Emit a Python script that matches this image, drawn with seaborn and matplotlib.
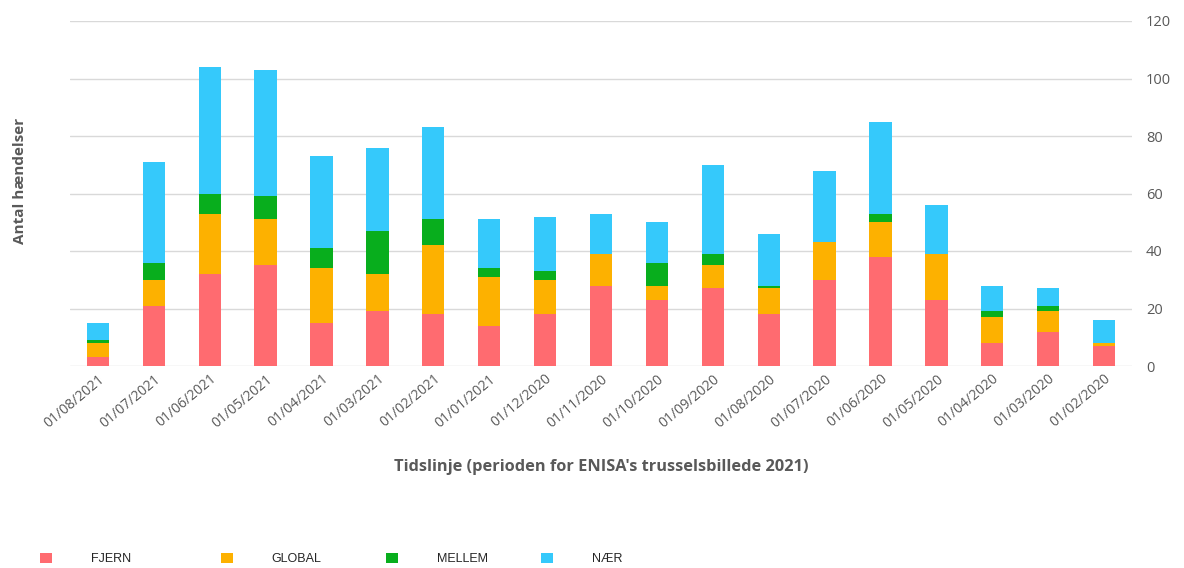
import numpy as np
import pandas as pd
import matplotlib
matplotlib.use("Agg")
import matplotlib.pyplot as plt
from matplotlib.patches import Patch
import seaborn as sns

# Monthly incident counts, newest month first
dates = ["01/08/2021", "01/07/2021", "01/06/2021", "01/05/2021", "01/04/2021",
         "01/03/2021", "01/02/2021", "01/01/2021", "01/12/2020", "01/11/2020",
         "01/10/2020", "01/09/2020", "01/08/2020", "01/07/2020", "01/06/2020",
         "01/05/2020", "01/04/2020", "01/03/2020", "01/02/2020"]
fjern = [3, 21, 32, 35, 15, 19, 18, 14, 18, 28, 23, 27, 18, 30, 38, 23, 8, 12, 7]
global_ = [5, 9, 21, 16, 19, 13, 24, 17, 12, 11, 5, 8, 9, 13, 12, 16, 9, 7, 1]
mellem = [1, 6, 7, 8, 7, 15, 9, 3, 3, 0, 8, 4, 1, 0, 3, 0, 2, 2, 0]
naer = [6, 35, 44, 44, 32, 29, 32, 17, 19, 14, 14, 31, 18, 25, 32, 17, 9, 6, 8]

series_names = ["FJERN", "GLOBAL", "MELLEM", "NÆR"]
series_colors = ["#ff6b70", "#fdb100", "#08ae1d", "#35c9fb"]
y_ticks = [0, 20, 40, 60, 80, 100, 120]

df = pd.DataFrame({"dato": dates, "FJERN": fjern, "GLOBAL": global_,
                   "MELLEM": mellem, "NÆR": naer})
stack = df[series_names].cumsum(axis=1)

sns.set_theme(style="white")
plt.rcParams["font.family"] = ["Open Sans", "DejaVu Sans"]

fig = plt.figure(figsize=(11.84, 5.68), dpi=100)
ax = fig.add_axes([70 / 1184, 1 - 366 / 568, 1062 / 1184, 345 / 568])

# stacked bars: draw cumulative totals from the top segment down
for name, color in reversed(list(zip(series_names, series_colors))):
    sns.barplot(x=df["dato"], y=stack[name], order=dates, color=color,
                saturation=1, width=0.4, linewidth=0, ax=ax)

ax.set_xlim(-0.5, len(dates) - 0.5)
ax.set_ylim(0, 120)
ax.set_yticks(y_ticks)
ax.yaxis.tick_right()
ax.yaxis.grid(True, color="#d9d9d9", linewidth=1)
ax.xaxis.grid(False)
ax.set_axisbelow(True)
for s in ax.spines.values():
    s.set_visible(False)

ax.tick_params(axis="y", length=0, pad=10, labelsize=10.5, labelcolor="#595959")
ax.tick_params(axis="x", length=0, pad=4, labelsize=10, labelcolor="#595959")
plt.setp(ax.get_xticklabels(), rotation=40, ha="right", rotation_mode="anchor")

ax.set_ylabel("Antal hændelser", fontsize=11, fontweight="bold", color="#595959")
ax.yaxis.set_label_position("left")
ax.yaxis.set_label_coords(-0.0405, 0.536)
ax.set_xlabel("Tidslinje (perioden for ENISA's trusselsbillede 2021)",
              fontsize=11.8, fontweight="bold", color="#595959")
ax.xaxis.set_label_coords(0.5, -0.293)
ax.xaxis.label.set_va("center")

# legend entries spread along the bottom edge
legend_x = [40, 221, 386, 541]
for name, color, x in zip(series_names, series_colors, legend_x):
    fig.legend(handles=[Patch(facecolor=color, edgecolor="none", label=name)],
               loc="center left", bbox_to_anchor=(x / 1184, 1 - 559 / 568),
               frameon=False, handlelength=0.95, handleheight=0.95,
               handletextpad=3.1, borderpad=0, borderaxespad=0,
               prop={"family": "Liberation Sans", "size": 9})
for t in fig.legends:
    for txt in t.get_texts():
        txt.set_color("#262626")

fig.savefig("out.png", dpi=100)
